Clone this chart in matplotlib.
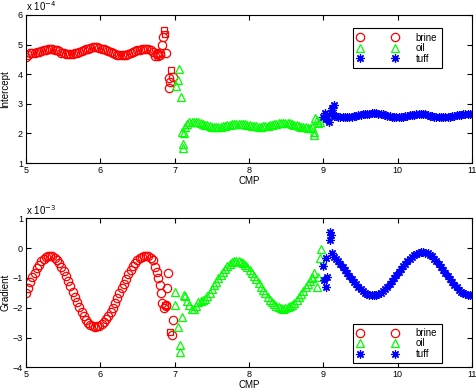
import matplotlib
matplotlib.use('Agg')
from matplotlib import pyplot as plt

plt.rcParams['font.family'] = ['Liberation Sans', 'DejaVu Sans']

# CMP positions of the three zones
brine_cmp = [5.00, 5.03, 5.06, 5.09, 5.12, 5.15, 5.18, 5.21, 5.24, 5.27,
             5.30, 5.33, 5.36, 5.39, 5.42, 5.45, 5.48, 5.51, 5.54, 5.57,
             5.60, 5.63, 5.66, 5.69, 5.72, 5.75, 5.78, 5.81, 5.84, 5.87,
             5.90, 5.93, 5.96, 5.99, 6.02, 6.05, 6.08, 6.11, 6.14, 6.17,
             6.20, 6.23, 6.26, 6.29, 6.32, 6.35, 6.38, 6.41, 6.44, 6.47,
             6.50, 6.53, 6.56, 6.59, 6.62, 6.65, 6.68, 6.71]
oil_cmp = [7.14, 7.17, 7.20, 7.23, 7.26, 7.29, 7.32, 7.35, 7.38, 7.41,
           7.44, 7.47, 7.50, 7.53, 7.56, 7.59, 7.62, 7.65, 7.68, 7.71,
           7.74, 7.77, 7.80, 7.83, 7.86, 7.89, 7.92, 7.95, 7.98, 8.01,
           8.04, 8.07, 8.10, 8.13, 8.16, 8.19, 8.22, 8.25, 8.28, 8.31,
           8.34, 8.37, 8.40, 8.43, 8.46, 8.49, 8.52, 8.55, 8.58, 8.61,
           8.64, 8.67, 8.70, 8.73, 8.76, 8.79, 8.82, 8.85]
tuff_cmp = [9.14, 9.17, 9.20, 9.23, 9.26, 9.29, 9.32, 9.35, 9.38, 9.41,
            9.44, 9.47, 9.50, 9.53, 9.56, 9.59, 9.62, 9.65, 9.68, 9.71,
            9.74, 9.77, 9.80, 9.83, 9.86, 9.89, 9.92, 9.95, 9.98, 10.01,
            10.04, 10.07, 10.10, 10.13, 10.16, 10.19, 10.22, 10.25, 10.28, 10.31,
            10.34, 10.37, 10.40, 10.43, 10.46, 10.49, 10.52, 10.55, 10.58, 10.61,
            10.64, 10.67, 10.70, 10.73, 10.76, 10.79, 10.82, 10.85, 10.88, 10.91,
            10.94, 10.97, 11.00]

# intercept (x 1e-4)
brine_int = [4.57, 4.66, 4.70, 4.70, 4.72, 4.74, 4.76, 4.79, 4.81, 4.83,
             4.85, 4.85, 4.84, 4.83, 4.80, 4.77, 4.73, 4.70, 4.68, 4.67,
             4.67, 4.68, 4.70, 4.72, 4.75, 4.78, 4.81, 4.84, 4.86, 4.88,
             4.90, 4.90, 4.90, 4.88, 4.86, 4.84, 4.81, 4.78, 4.74, 4.71,
             4.68, 4.66, 4.65, 4.64, 4.64, 4.65, 4.68, 4.70, 4.74, 4.77,
             4.81, 4.83, 4.85, 4.86, 4.86, 4.84, 4.80, 4.74]
oil_int = [2.23, 2.32, 2.38, 2.40, 2.40, 2.38, 2.37, 2.34, 2.32, 2.29,
           2.27, 2.25, 2.23, 2.22, 2.22, 2.22, 2.23, 2.25, 2.26, 2.28,
           2.30, 2.31, 2.32, 2.33, 2.33, 2.33, 2.32, 2.31, 2.29, 2.27,
           2.26, 2.25, 2.24, 2.23, 2.23, 2.24, 2.25, 2.26, 2.28, 2.30,
           2.31, 2.33, 2.34, 2.35, 2.36, 2.36, 2.35, 2.34, 2.32, 2.30,
           2.28, 2.25, 2.23, 2.22, 2.21, 2.20, 2.20, 2.21]
tuff_int = [2.60, 2.58, 2.57, 2.56, 2.55, 2.55, 2.55, 2.56, 2.56, 2.58,
            2.59, 2.61, 2.62, 2.64, 2.65, 2.67, 2.67, 2.68, 2.68, 2.68,
            2.67, 2.65, 2.64, 2.62, 2.60, 2.58, 2.57, 2.56, 2.56, 2.56,
            2.57, 2.57, 2.59, 2.60, 2.61, 2.62, 2.63, 2.64, 2.65, 2.65,
            2.65, 2.64, 2.62, 2.60, 2.58, 2.56, 2.55, 2.54, 2.54, 2.54,
            2.55, 2.56, 2.57, 2.58, 2.60, 2.61, 2.62, 2.63, 2.64, 2.65,
            2.65, 2.65, 2.65]

# gradient (x 1e-3)
brine_grad = [-1.51, -1.33, -1.15, -0.98, -0.82, -0.67, -0.55, -0.44, -0.36, -0.30,
              -0.27, -0.26, -0.28, -0.34, -0.41, -0.51, -0.64, -0.78, -0.94, -1.11,
              -1.28, -1.47, -1.65, -1.82, -1.99, -2.15, -2.28, -2.41, -2.50, -2.58,
              -2.62, -2.64, -2.63, -2.60, -2.55, -2.47, -2.38, -2.27, -2.14, -2.00,
              -1.84, -1.68, -1.52, -1.35, -1.19, -1.03, -0.88, -0.74, -0.61, -0.50,
              -0.41, -0.34, -0.29, -0.27, -0.26, -0.28, -0.33, -0.41]
oil_grad = [-1.62, -1.78, -1.92, -2.03, -2.05, -1.95, -1.82, -1.76, -1.74, -1.71,
            -1.62, -1.50, -1.38, -1.25, -1.12, -1.00, -0.89, -0.79, -0.69, -0.60,
            -0.52, -0.47, -0.43, -0.42, -0.43, -0.46, -0.50, -0.56, -0.64, -0.72,
            -0.82, -0.93, -1.05, -1.16, -1.29, -1.40, -1.52, -1.63, -1.73, -1.82,
            -1.89, -1.95, -1.99, -2.02, -2.03, -2.02, -1.99, -1.95, -1.90, -1.83,
            -1.74, -1.65, -1.55, -1.44, -1.32, -1.21, -1.09, -0.98]
tuff_grad = [-0.29, -0.36, -0.44, -0.53, -0.62, -0.72, -0.83, -0.93, -1.03, -1.13,
             -1.22, -1.30, -1.38, -1.45, -1.50, -1.54, -1.57, -1.58, -1.58, -1.56,
             -1.53, -1.49, -1.43, -1.36, -1.29, -1.20, -1.11, -1.01, -0.91, -0.81,
             -0.71, -0.61, -0.52, -0.43, -0.36, -0.29, -0.23, -0.19, -0.16, -0.14,
             -0.14, -0.15, -0.18, -0.22, -0.28, -0.35, -0.43, -0.52, -0.62, -0.72,
             -0.82, -0.93, -1.03, -1.14, -1.23, -1.32, -1.39, -1.46, -1.51, -1.55,
             -1.57, -1.58, -1.57]

# scattered points near the zone boundaries
brine_sc_cmp_i = [6.74, 6.76, 6.78, 6.80, 6.81, 6.77, 6.83, 6.84, 6.89, 6.92, 6.98, 6.94, 6.92]
brine_sc_int = [4.62, 4.68, 4.60, 4.72, 4.65, 4.72, 4.99, 5.27, 4.71, 3.86, 3.89, 3.75, 3.52]
brine_sq_cmp_i = [6.86, 6.87, 6.95]
brine_sq_int = [5.49, 5.36, 4.14]
oil_sc_cmp_i = [7.06, 7.04, 7.02, 7.09, 7.10, 7.13, 7.12, 7.12, 8.88, 8.87, 8.89, 8.93, 8.91, 8.95]
oil_sc_int = [4.16, 3.80, 3.60, 3.24, 2.06, 2.00, 1.64, 1.52, 1.95, 2.05, 2.51, 2.34, 2.45, 2.40]
tuff_sc_cmp_i = [9.00, 9.02, 9.03, 9.05, 9.07, 9.11, 9.12, 9.14, 9.10]
tuff_sc_int = [2.55, 2.68, 2.50, 2.60, 2.39, 2.79, 2.85, 2.96, 2.70]

brine_sc_cmp_g = [6.74, 6.76, 6.78, 6.80, 6.82, 6.83, 6.86, 6.91, 6.90, 6.89, 6.98, 6.96, 6.88]
brine_sc_grad = [-0.62, -0.79, -1.01, -1.24, -1.52, -1.85, -2.02, -0.85, -1.35, -1.90, -2.41, -2.92, -1.95]
brine_sq_cmp_g = [6.87, 6.94]
brine_sq_grad = [-1.90, -2.80]
oil_sc_cmp_g = [7.00, 7.01, 7.10, 7.05, 7.07, 7.07, 7.13, 8.87, 8.91, 8.96, 8.97, 8.85, 8.93]
oil_sc_grad = [-1.48, -1.91, -2.30, -2.64, -3.25, -3.48, -1.57, -0.85, -1.30, -0.34, -0.03, -1.00, -0.96]
tuff_sc_cmp_g = [9.00, 9.04, 9.05, 9.01, 9.03, 9.09, 9.09, 9.12, 9.10]
tuff_sc_grad = [-0.59, -0.32, -0.96, -1.07, -1.30, 0.27, 0.53, -0.17, 0.45]

star = (8, 2, 0)
mk = dict(ls='none', mfc='none', ms=6, mew=0.9)

fig = plt.figure(figsize=(4.76, 3.92), dpi=100)
ax1 = fig.add_axes([0.054, 0.584, 0.938, 0.378])
ax2 = fig.add_axes([0.054, 0.063, 0.938, 0.380])


def draw(ax, b_cmp, b_val, o_val, t_val, b_sc, o_sc, t_sc, b_sq):
    ax.plot(b_cmp, b_val, 'o', mec='#ff0000', label='brine', **mk)
    ax.plot(oil_cmp, o_val, '^', mec='#00ff00', label='oil', **mk)
    ax.plot(tuff_cmp, t_val, marker=star, mec='#0000ff', label='tuff', **mk)
    ax.plot(b_sc[0], b_sc[1], 'o', mec='#ff0000', **mk)
    ax.plot(b_sq[0], b_sq[1], 's', mec='#ff0000', ls='none', mfc='none', ms=4.5, mew=0.9)
    ax.plot(o_sc[0], o_sc[1], '^', mec='#00ff00', **mk)
    ax.plot(t_sc[0], t_sc[1], marker=star, mec='#0000ff', **mk)
    ax.set_xlim(5, 11)
    ax.set_xticks([5, 6, 7, 8, 9, 10, 11])
    ax.tick_params(direction='in', top=True, right=True, labelsize=6.5, length=3.5, width=0.8, pad=2)
    for s in ax.spines.values():
        s.set_linewidth(0.8)
    ax.set_xlabel('CMP', fontsize=7, labelpad=1)
    ax.yaxis.set_label_coords(-0.034, 0.5)


draw(ax1, brine_cmp, brine_int, oil_int, tuff_int,
     (brine_sc_cmp_i, brine_sc_int), (oil_sc_cmp_i, oil_sc_int),
     (tuff_sc_cmp_i, tuff_sc_int), (brine_sq_cmp_i, brine_sq_int))
ax1.set_ylim(1, 6)
ax1.set_yticks([1, 2, 3, 4, 5, 6])
ax1.set_ylabel('Intercept', fontsize=7)
ax1.text(0.0, 1.01, r'x 10$^{-4}$', transform=ax1.transAxes, fontsize=7, ha='left', va='bottom')

draw(ax2, brine_cmp, brine_grad, oil_grad, tuff_grad,
     (brine_sc_cmp_g, brine_sc_grad), (oil_sc_cmp_g, oil_sc_grad),
     (tuff_sc_cmp_g, tuff_sc_grad), (brine_sq_cmp_g, brine_sq_grad))
ax2.set_ylim(-4, 1)
ax2.set_yticks([-4, -3, -2, -1, 0, 1])
ax2.set_ylabel('Gradient', fontsize=7)
ax2.text(0.0, 1.01, r'x 10$^{-3}$', transform=ax2.transAxes, fontsize=7, ha='left', va='bottom')

leg_kw = dict(numpoints=2, fontsize=7, fancybox=False, framealpha=1, edgecolor='black',
              handlelength=4.2, handletextpad=1.8, labelspacing=0.05, borderpad=0.45,
              borderaxespad=0)
l1 = ax1.legend(loc='upper left', bbox_to_anchor=(0.733, 0.910), **leg_kw)
l2 = ax2.legend(loc='lower left', bbox_to_anchor=(0.733, 0.027), **leg_kw)
for lg in (l1, l2):
    lg.get_frame().set_linewidth(0.8)

fig.savefig('out.png', dpi=100)
